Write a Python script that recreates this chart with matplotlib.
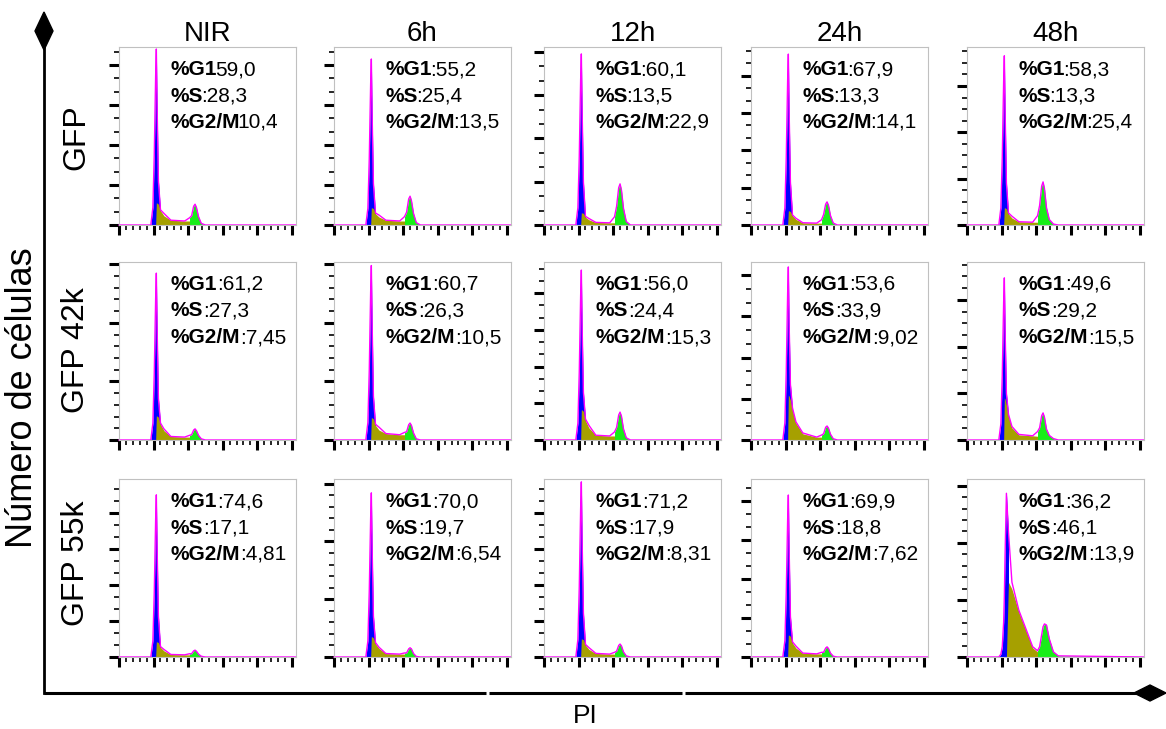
import numpy as np
import matplotlib
matplotlib.use("Agg")
from matplotlib import pyplot as plt
from matplotlib.patches import Polygon

plt.rcParams['font.family'] = ['Liberation Sans', 'DejaVu Sans']

W, H = 1166, 729

times = ['NIR', '6h', '12h', '24h', '48h']
rows = ['GFP', 'GFP 42k', 'GFP 55k']

# PI channel grid shared by all histograms
channel = np.array([0, 46, 49, 51, 53, 54, 55, 57, 60, 65, 75, 95, 102, 105, 108,
                    110, 112, 115, 119, 125, 132, 256])

# total fitted histogram (counts) per time point
gfp_total = [
    [0, 0, 44, 176, 374, 440, 308, 110, 38, 29, 12, 10, 18, 23, 47, 52, 44, 21, 4, 0, 0, 0],
    [0, 0, 42, 166, 353, 415, 291, 104, 30, 25, 12, 10, 21, 32, 65, 72, 61, 29, 6, 0, 0, 0],
    [0, 0, 40, 158, 336, 395, 277, 99, 20, 15, 6, 5, 19, 43, 86, 95, 81, 38, 8, 0, 0, 0],
    [0, 0, 46, 183, 389, 458, 321, 115, 27, 18, 6, 5, 14, 28, 56, 62, 53, 25, 5, 0, 0, 0],
    [0, 0, 37, 146, 310, 365, 256, 91, 26, 19, 7, 6, 20, 42, 84, 93, 79, 37, 12, 2, 0, 0],
]
gfp42_total = [
    [0, 0, 29, 114, 242, 285, 200, 71, 29, 19, 6, 5, 8, 9, 17, 19, 16, 8, 2, 0, 0, 0],
    [0, 0, 30, 119, 253, 298, 209, 75, 27, 22, 11, 9, 13, 14, 26, 29, 25, 12, 2, 0, 0, 0],
    [0, 0, 46, 185, 394, 463, 324, 130, 57, 40, 13, 11, 22, 34, 68, 76, 65, 30, 6, 0, 0, 0],
    [0, 0, 42, 168, 357, 420, 294, 135, 78, 44, 17, 7, 12, 15, 31, 34, 29, 14, 3, 0, 0, 0],
    [0, 0, 35, 139, 295, 347, 243, 100, 55, 29, 12, 9, 18, 26, 52, 58, 49, 23, 10, 3, 0, 0],
]
gfp55_total = [
    [0, 0, 45, 180, 383, 450, 315, 113, 29, 21, 7, 6, 9, 9, 17, 19, 16, 8, 2, 0, 0, 0],
    [0, 0, 28, 114, 241, 284, 199, 71, 25, 17, 6, 5, 7, 7, 14, 16, 14, 6, 1, 0, 0, 0],
    [0, 0, 49, 194, 413, 486, 340, 122, 35, 26, 10, 8, 13, 16, 32, 36, 31, 14, 3, 0, 0, 0],
    [0, 0, 42, 166, 353, 415, 291, 104, 39, 28, 10, 8, 12, 12, 23, 26, 22, 10, 2, 0, 0, 0],
    [0, 0, 5, 18, 61, 105, 175, 287, 219, 131, 82, 18, 11, 18, 39, 53, 58, 56, 32, 9, 2, 0],
]

# S-phase component (counts)
gfp_s = [
    [0, 0, 0, 0, 0, 55, 55, 52, 36, 23, 12, 10, 10, 8, 6, 4, 3, 1, 0, 0, 0, 0],
    [0, 0, 0, 0, 0, 43, 43, 41, 28, 20, 12, 10, 10, 8, 6, 4, 3, 1, 0, 0, 0, 0],
    [0, 0, 0, 0, 0, 28, 28, 27, 18, 12, 6, 5, 5, 4, 3, 2, 2, 1, 0, 0, 0, 0],
    [0, 0, 0, 0, 0, 38, 38, 36, 25, 15, 6, 5, 5, 4, 3, 2, 2, 1, 0, 0, 0, 0],
    [0, 0, 0, 0, 0, 37, 37, 35, 24, 15, 7, 6, 6, 5, 4, 2, 2, 1, 0, 0, 0, 0],
]
gfp42_s = [
    [0, 0, 0, 0, 0, 41, 41, 39, 27, 16, 6, 5, 5, 4, 3, 2, 2, 1, 0, 0, 0, 0],
    [0, 0, 0, 0, 0, 38, 38, 36, 25, 17, 11, 9, 9, 7, 5, 4, 3, 1, 0, 0, 0, 0],
    [0, 0, 0, 0, 0, 82, 82, 78, 53, 33, 13, 11, 11, 9, 7, 4, 3, 1, 0, 0, 0, 0],
    [0, 0, 0, 0, 0, 109, 107, 97, 73, 41, 15, 7, 7, 6, 4, 3, 2, 1, 0, 0, 0, 0],
    [0, 0, 0, 0, 0, 90, 88, 75, 51, 26, 11, 9, 8, 7, 5, 4, 3, 1, 0, 0, 0, 0],
]
gfp55_s = [
    [0, 0, 0, 0, 0, 42, 42, 40, 27, 17, 7, 6, 6, 5, 4, 2, 2, 1, 0, 0, 0, 0],
    [0, 0, 0, 0, 0, 35, 35, 33, 23, 15, 6, 5, 5, 4, 3, 2, 2, 1, 0, 0, 0, 0],
    [0, 0, 0, 0, 0, 50, 50, 48, 33, 21, 10, 8, 8, 6, 5, 3, 2, 1, 0, 0, 0, 0],
    [0, 0, 0, 0, 0, 56, 56, 53, 36, 23, 10, 8, 8, 6, 5, 3, 2, 1, 0, 0, 0, 0],
    [0, 0, 0, 0, 0, 0, 0, 0, 131, 119, 79, 16, 9, 7, 5, 4, 3, 2, 0, 0, 0, 0],
]

g1_pct = [['59,0', '55,2', '60,1', '67,9', '58,3'],
          ['61,2', '60,7', '56,0', '53,6', '49,6'],
          ['74,6', '70,0', '71,2', '69,9', '36,2']]
s_pct = [['28,3', '25,4', '13,5', '13,3', '13,3'],
         ['27,3', '26,3', '24,4', '33,9', '29,2'],
         ['17,1', '19,7', '17,9', '18,8', '46,1']]
g2_pct = [['10,4', '13,5', '22,9', '14,1', '25,4'],
          ['7,45', '10,5', '15,3', '9,02', '15,5'],
          ['4,81', '6,54', '8,31', '7,62', '13,9']]

# y axis top (counts) and minor subdivisions per panel
y_top = [[445, 445, 411, 477, 384],
         [304, 304, 485, 432, 381],
         [494, 308, 494, 456, 312]]
y_sub = [[3, 3, 3, 3, 4],
         [5, 5, 3, 3, 4],
         [3, 5, 3, 3, 5]]

totals = [gfp_total, gfp42_total, gfp55_total]
sphase = [gfp_s, gfp42_s, gfp55_s]

fig = plt.figure(figsize=(W / 100, H / 100), dpi=100)

# big arrow axes, drawn in pixel coords
ov = fig.add_axes([0, 0, 1, 1])
ov.set_xlim(0, W)
ov.set_ylim(H, 0)
ov.axis('off')
ov.plot([44, 44], [40, 693], color='black', lw=2)
ov.plot([44, 486], [693, 693], color='black', lw=2.2, solid_capstyle='butt')
ov.plot([489, 682], [693, 693], color='black', lw=2.2, solid_capstyle='butt')
ov.plot([685, 1140], [693, 693], color='black', lw=2.2, solid_capstyle='butt')
ov.add_patch(Polygon([[44, 12], [53, 31], [44, 50], [35, 31]], color='black'))
ov.add_patch(Polygon([[1134, 693], [1150, 685], [1166, 693], [1150, 701]], color='black'))
ov.text(23, 398, 'Número de células', rotation=90, ha='center', va='center', fontsize=26)
ov.text(585, 716, 'PI', ha='center', va='center', fontsize=19)

col_left = [119, 334, 544, 751, 967]
row_top = [47, 262, 479]
pw, ph = 177, 178
row_lab_y = [137, 350, 563]

for r in range(3):
    ov.text(76, row_lab_y[r], rows[r], rotation=90, ha='center', va='center', fontsize=23)
    for c in range(5):
        ax = fig.add_axes([col_left[c] / W, 1 - (row_top[r] + ph) / H, pw / W, ph / H])
        tot = np.array(totals[r][c])
        sp = np.array(sphase[r][c])
        ax.fill_between(channel, 0, tot, where=channel <= 60, color='#0000ff', lw=0)
        ax.fill_between(channel, 0, sp, color='#a6a000', lw=0)
        ax.fill_between(channel, 0, tot, where=channel >= 102, color='#18ee18', lw=0)
        ax.plot(channel, tot, color='#ff00ff', lw=1.0, clip_on=False)
        ax.set_xlim(0, 256)
        ax.set_ylim(0, y_top[r][c])
        ax.set_xticks(np.arange(0, 251, 50))
        ax.set_xticks(np.arange(0, 251, 10), minor=True)
        ax.set_yticks(np.arange(0, y_top[r][c] + 1, 100))
        ax.set_yticks(np.arange(0, y_top[r][c] + 1, 100 / y_sub[r][c]), minor=True)
        ax.tick_params(which='major', direction='out', length=7, width=2.2, color='black',
                       labelbottom=False, labelleft=False)
        ax.tick_params(which='minor', direction='out', length=3.5, width=1.2, color='black')
        for s_ in ax.spines.values():
            s_.set_color('#c0c0c0')
            s_.set_linewidth(0.8)
        if r == 0:
            ax.set_title(times[c], fontsize=20, pad=1)

        labels = [('%G1', g1_pct[r][c]), ('%S', s_pct[r][c]), ('%G2/M', g2_pct[r][c])]
        for i, (b, v) in enumerate(labels):
            yy = 1 - (28 + 26.5 * i) / ph
            sep = ':'
            if r == 0 and c == 0 and i != 1:
                sep = ''
            t = ax.text(0.29, yy, b, transform=ax.transAxes, fontsize=15,
                        fontweight='bold', ha='left', va='baseline')
            ax.annotate(sep + v, xy=(1, 0), xycoords=t, ha='left', va='bottom',
                        fontsize=15, xytext=(-1.5 if r == 0 else 0, 0),
                        textcoords='offset points')

fig.savefig('out.png', dpi=100)
